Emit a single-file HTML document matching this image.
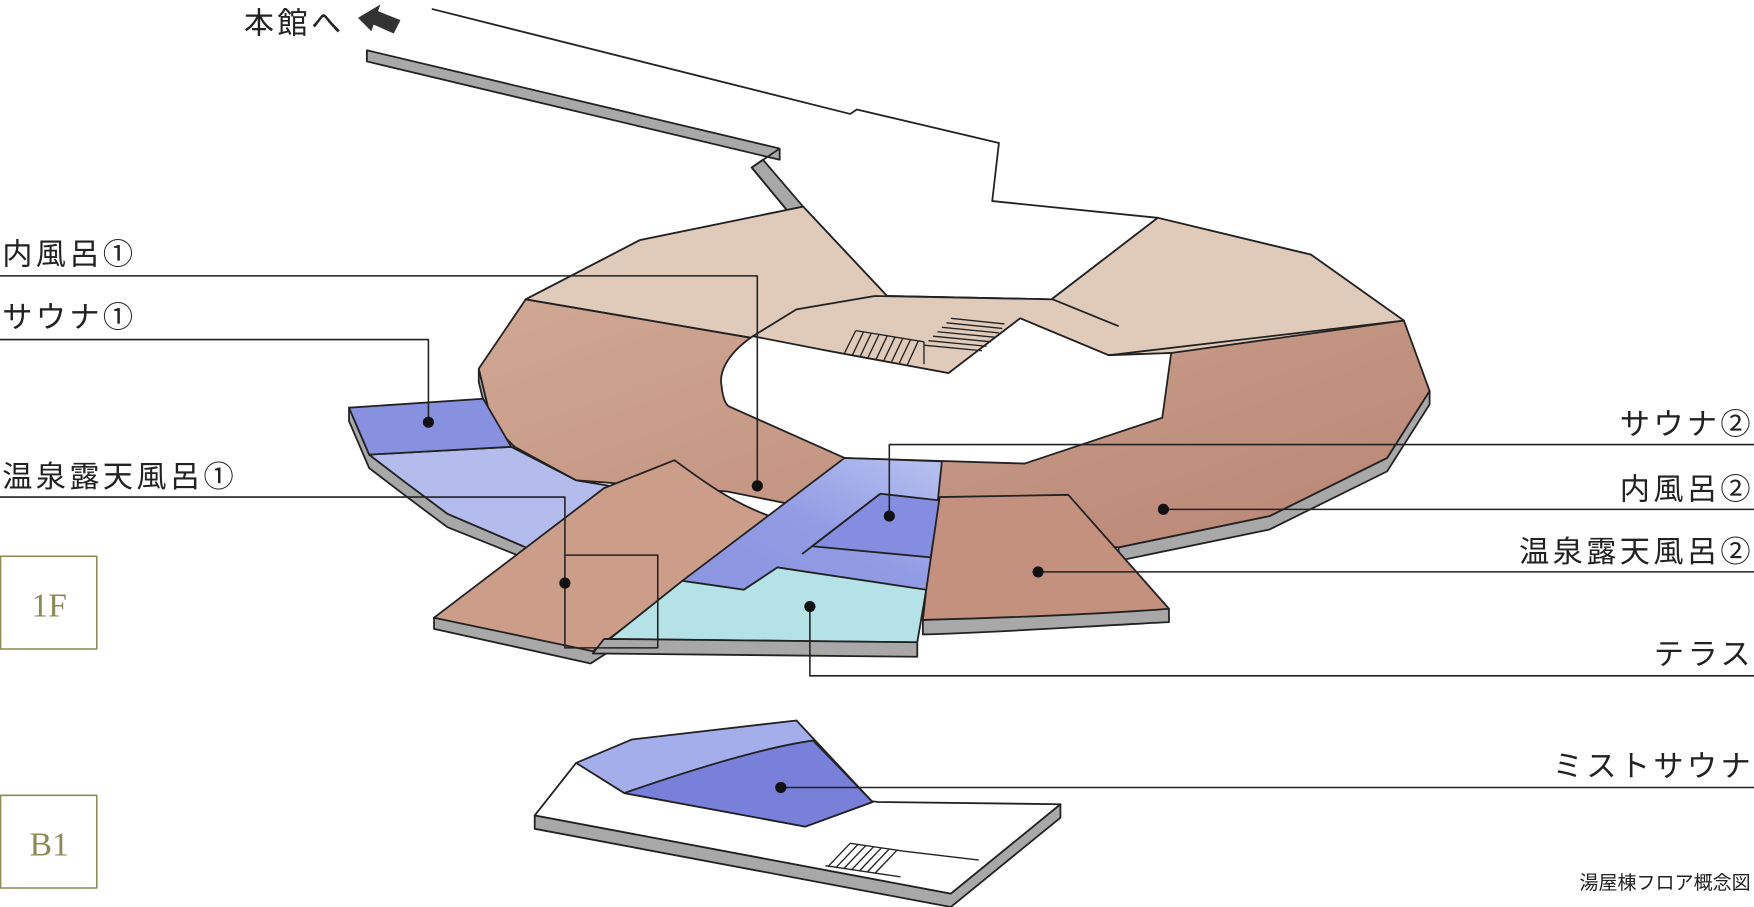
<!DOCTYPE html>
<html><head><meta charset="utf-8"><style>
html,body{margin:0;padding:0;background:#fff;}
svg{display:block}
text{font-family:"Liberation Sans","Noto Sans CJK JP",sans-serif;fill:#222}
.l{font-size:27px;letter-spacing:3px}
</style></head><body>
<svg width="1754" height="907" viewBox="0 0 1568 812" preserveAspectRatio="none" xmlns="http://www.w3.org/2000/svg">
<defs>
<linearGradient id="br" x1="0" y1="0" x2="1" y2="1">
<stop offset="0" stop-color="#d4ae98"/><stop offset="1" stop-color="#b98575"/></linearGradient>
<linearGradient id="bl" x1="1" y1="0" x2="0" y2="1">
<stop offset="0" stop-color="#b8c2f0"/><stop offset="0.5" stop-color="#929ce4"/><stop offset="1" stop-color="#8a94e0"/></linearGradient>
</defs>
<g stroke="#222" stroke-width="1.6" stroke-linejoin="round">
<polygon points="328,45 697,133 697,143 328,55" fill="#a8a8a8"/>
<polygon points="672,150 682,143 718,185 705,190" fill="#a8a8a8"/>
<polyline points="697,133 672,150 705,190" fill="none"/>
<polyline points="386,8 760,102 766,98 893,128 887,180 1035,195" fill="none"/>
<polygon points="428,330 428,342 440,392 460,412 515,442 515,430 460,400 440,380" fill="#a8a8a8"/>
<polygon points="1278,350 1278,362 1240,422 1135,474 1000,502 1000,490 1135,462 1240,410" fill="#a8a8a8"/>
<polygon points="312,365 312,377 330,419 360,442 400,472 470,500 470,490 400,460 360,430 330,407" fill="#a8a8a8"/>
<polygon points="470,268 572,215 718,185 793,265 940,268 1035,195 1172,228 1255,287 1278,350 1240,410 1135,462 1000,490 800,470 650,440 515,430 460,400 440,380 428,330" fill="url(#br)"/>
<polygon points="470,268 572,215 718,185 793,265 940,268 1035,195 1172,228 1255,287 1047,316 991,318 912,285 848,334 745,315" fill="#e0cbbb"/>
<polygon points="712,277 782,265 941,268 1000,292 991,318 912,285 848,334 745,315 673,301" fill="#e0cbbb" stroke="none"/>
<polyline points="673,301 712,277 782,265 941,268 1000,292" fill="none"/>
<polyline points="470,268 745,315 848,334 912,285 991,318 1255,287" fill="none"/>
<path d="M673,301 C648,318 643,335 645,345 C646,355 648,362 652,364 L755,410 L916,415 L1039,374 L1047,316 L991,318 L912,285 L848,334 L745,315 Z" fill="#fff"/>
<g stroke-width="1.2">
<line x1="765" y1="296" x2="755" y2="316"/><line x1="772" y1="297" x2="762" y2="318"/><line x1="779" y1="298" x2="769" y2="319"/><line x1="786" y1="299" x2="776" y2="320"/><line x1="793" y1="301" x2="783" y2="322"/><line x1="800" y1="302" x2="790" y2="323"/><line x1="807" y1="303" x2="797" y2="324"/><line x1="814" y1="304" x2="804" y2="325"/><line x1="821" y1="305" x2="811" y2="327"/>
<line x1="765" y1="296" x2="826" y2="306"/>
<line x1="850" y1="285" x2="898" y2="290"/><line x1="846" y1="289" x2="896" y2="294"/><line x1="842" y1="293" x2="893" y2="298"/><line x1="838" y1="297" x2="890" y2="302"/><line x1="834" y1="301" x2="886" y2="306"/><line x1="830" y1="305" x2="882" y2="310"/><line x1="826" y1="309" x2="878" y2="314"/>
<line x1="826" y1="306" x2="826" y2="326"/>
</g>
<polygon points="330,407 457,400 515,430 545,435 500,500 470,490 400,460 360,430" fill="#b4bcee"/>
<polygon points="312,365 432,357 457,400 330,407" fill="#8890e0"/>
<polygon points="388,553 388,563 528,594 545,583 540,572" fill="#a8a8a8"/>
<path d="M388,553 L540,437 L603,412 C630,432 655,450 688,462 L530,583 Z" fill="#cc9e8a"/>
<polygon points="755,410 842,413 830,530 695,508 665,528 610,520" fill="url(#bl)"/>
<polygon points="787,442 840,448 832,499 726,489" fill="#858de0"/>
<line x1="787" y1="442" x2="717" y2="496"/>
<polygon points="545,572 610,520 665,528 695,508 828,528 820,575" fill="#b5e2e6"/>
<polygon points="540,572 820,575 820,588 530,585" fill="#a8a8a8"/>
<path d="M825,555 L825,568 C900,566 980,560 1045,557 L1045,545 Z" fill="#a8a8a8"/>
<path d="M840,445 L955,443 L1045,545 C980,550 900,553 825,555 L828,528 Z" fill="#c4917f"/>
<polygon points="478,730 478,742 850,812 948,732 948,720 850,800" fill="#a8a8a8"/>
<polygon points="478,730 515,683 785,718 948,720 850,800" fill="#fff"/>
<polygon points="515,683 565,662 712,645 780,718 720,740 558,710" fill="#a4aeea"/>
<path d="M558,710 C630,685 690,668 727,663 L780,718 L720,740 Z" fill="#7880da"/>
<g stroke-width="1.2"><line x1="738" y1="775" x2="805" y2="785"/><line x1="760" y1="755" x2="740" y2="776"/><line x1="767" y1="756" x2="747" y2="777"/><line x1="774" y1="757" x2="754" y2="778"/><line x1="781" y1="758" x2="761" y2="779"/><line x1="788" y1="759" x2="768" y2="780"/><line x1="795" y1="760" x2="775" y2="781"/><line x1="802" y1="761" x2="782" y2="782"/><line x1="760" y1="755" x2="808" y2="762"/><line x1="808" y1="762" x2="875" y2="770"/></g>
<g fill="none" stroke-width="1.4">
<polyline points="0,247 677,247 677,435"/>
<polyline points="0,304 383,304 383,378"/>
<polyline points="0,445 505,445 505,580 588,580 588,497 505,497"/>
<polyline points="1568,398 795,398 795,462"/>
<polyline points="1568,456 1040,456"/>
<polyline points="1568,512 928,512"/>
<polyline points="1568,605 724,605 724,543"/>
<polyline points="1568,705 698,705"/>
</g>
<g fill="#111" stroke="none">
<circle cx="677" cy="435" r="5"/><circle cx="383" cy="378" r="5"/><circle cx="505" cy="522" r="5"/>
<circle cx="795" cy="462" r="5"/><circle cx="1040" cy="456" r="5"/><circle cx="928" cy="512" r="5"/>
<circle cx="724" cy="543" r="5"/><circle cx="698" cy="705" r="5"/>
</g>
<polygon points="320,16 340,4 338,10 358,18 352,30 334,22 332,28" fill="#333" stroke="none"/>
<rect x="0.5" y="498" width="86" height="83" fill="none" stroke="#8a8a55" stroke-width="1.4"/>
<rect x="0.5" y="712" width="86" height="83" fill="none" stroke="#8a8a55" stroke-width="1.4"/>
</g>
<text x="218" y="30" class="l">本館へ</text>
<text x="2" y="237" class="l">内風呂①</text>
<text x="2" y="293" class="l">サウナ①</text>
<text x="2" y="436" class="l">温泉露天風呂①</text>
<text x="1568" y="389" class="l" text-anchor="end">サウナ②</text>
<text x="1568" y="447" class="l" text-anchor="end">内風呂②</text>
<text x="1568" y="503" class="l" text-anchor="end">温泉露天風呂②</text>
<text x="1568" y="595" class="l" text-anchor="end">テラス</text>
<text x="1568" y="695" class="l" text-anchor="end">ミストサウナ</text>
<text x="1565" y="796" font-size="17" text-anchor="end">湯屋棟フロア概念図</text>
<text x="44" y="552" font-size="30" text-anchor="middle" style="font-family:'Liberation Serif',serif;fill:#8a8a55">1F</text>
<text x="44" y="766" font-size="30" text-anchor="middle" style="font-family:'Liberation Serif',serif;fill:#8a8a55">B1</text>
</svg>
</body></html>
